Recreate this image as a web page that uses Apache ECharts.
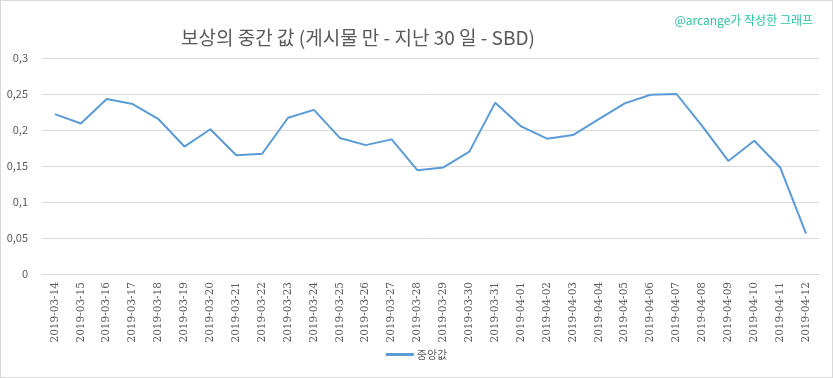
<!DOCTYPE html>
<html>
<head>
<meta charset="utf-8">
<script src="https://cdn.jsdelivr.net/npm/echarts@6/dist/echarts.min.js"></script>
<style>
  html, body { margin: 0; padding: 0; background: #fff; }
  #chart { width: 831px; height: 376px; border: 1px solid #d9d9d9; }
</style>
</head>
<body>
<div id="chart"></div>
<script>
// dates (x axis)
var dates = [
  '2019-03-14', '2019-03-15', '2019-03-16', '2019-03-17', '2019-03-18',
  '2019-03-19', '2019-03-20', '2019-03-21', '2019-03-22', '2019-03-23',
  '2019-03-24', '2019-03-25', '2019-03-26', '2019-03-27', '2019-03-28',
  '2019-03-29', '2019-03-30', '2019-03-31', '2019-04-01', '2019-04-02',
  '2019-04-03', '2019-04-04', '2019-04-05', '2019-04-06', '2019-04-07',
  '2019-04-08', '2019-04-09', '2019-04-10', '2019-04-11', '2019-04-12'
];

// median reward per day (SBD)
var medianValues = [
  0.222, 0.209, 0.243, 0.236, 0.215,
  0.177, 0.201, 0.165, 0.167, 0.217,
  0.228, 0.189, 0.179, 0.187, 0.144,
  0.148, 0.170, 0.238, 0.205, 0.188,
  0.193, 0.215, 0.237, 0.249, 0.250,
  0.205, 0.157, 0.185, 0.148, 0.056
];

var seriesName = '중앙값';
var titleText = '보상의 중간 값 (게시물 만 - 지난 30 일 - SBD)';
var creditText = '@arcange가 작성한 그래프';

var chart = echarts.init(document.getElementById('chart'));

var option = {
  animation: false,
  textStyle: { fontFamily: '"Noto Sans CJK KR", "Open Sans", sans-serif' },
  title: [
    {
      text: titleText,
      left: 352,
      top: 22,
      textAlign: 'center',
      textStyle: {
        fontSize: 19,
        fontWeight: 'normal',
        color: '#595959',
        fontFamily: '"Noto Sans CJK KR", sans-serif'
      }
    },
    {
      text: creditText,
      right: 14,
      top: 8,
      textStyle: {
        fontSize: 12,
        fontWeight: 'normal',
        color: '#2cc5a2',
        fontFamily: '"Noto Sans CJK KR", sans-serif'
      }
    }
  ],
  legend: {
    bottom: 12,
    left: 'center',
    itemWidth: 28,
    itemHeight: 3,
    icon: 'rect',
    itemGap: 4,
    data: [seriesName],
    textStyle: { color: '#595959', fontSize: 11, padding: [0, 0, 0, -2] }
  },
  grid: {
    left: 41,
    right: 13,
    top: 57,
    bottom: 103,
    containLabel: false
  },
  xAxis: {
    type: 'category',
    data: dates,
    boundaryGap: true,
    axisLine: { show: true, lineStyle: { color: '#d9d9d9' } },
    axisTick: { show: false },
    axisLabel: {
      rotate: 90,
      interval: 0,
      color: '#595959',
      fontSize: 10.5,
      margin: 8,
      fontFamily: '"DejaVu Serif", serif'
    }
  },
  yAxis: {
    type: 'value',
    min: 0,
    max: 0.3,
    interval: 0.05,
    axisLine: { show: false },
    axisTick: { show: false },
    splitLine: { lineStyle: { color: '#d9d9d9' } },
    axisLabel: {
      color: '#595959',
      fontSize: 11,
      margin: 14,
      formatter: function (v) {
        return String(Math.round(v * 100) / 100).replace('.', ',');
      }
    }
  },
  series: [
    {
      name: seriesName,
      type: 'line',
      data: medianValues,
      symbol: 'none',
      lineStyle: { color: '#5b9bd5', width: 2 },
      itemStyle: { color: '#5b9bd5' }
    }
  ]
};

chart.setOption(option);
</script>
</body>
</html>
